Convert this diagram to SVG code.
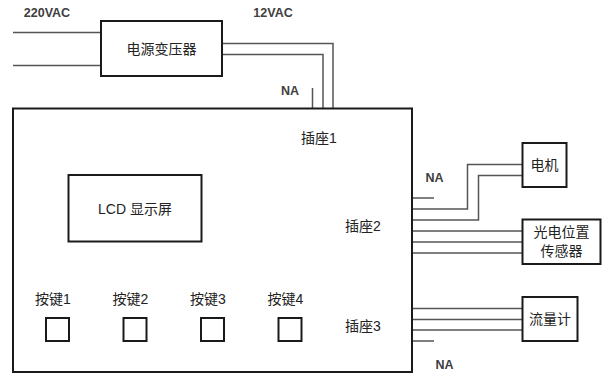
<svg xmlns="http://www.w3.org/2000/svg" width="606" height="374" viewBox="0 0 606 374">
<style>
.box{fill:#fff;stroke:#1a1a1a;stroke-width:2}
.btn{fill:#fff;stroke:#1a1a1a;stroke-width:2}
.w{fill:none;stroke:#555;stroke-width:1.5}
.t{font-family:"Liberation Sans","Noto Sans CJK SC",sans-serif;font-size:14px;fill:#222;text-anchor:middle;dominant-baseline:central}
.b{font-family:"Liberation Sans",sans-serif;font-size:12.5px;font-weight:bold;fill:#404040;text-anchor:middle;dominant-baseline:central}
</style>
<rect width="606" height="374" fill="#fff"/>
<g id="connectors">
<path class="w" d="M13 32.5H101M13 65.5H101"/>
<path class="w" d="M222 43.5H333V108M222 54.5H323V108M312.5 88V108"/>
<path class="w" d="M412 198H434M412 209H467.5V164.5H522M412 220H478.5V175.5H522"/>
<path class="w" d="M412 231H522M412 242H522M412 253H522"/>
<path class="w" d="M412 308.5H522M412 319.5H522M412 330H522M412 341H434"/>
</g>
<g id="transformer"><rect class="box" x="101" y="21" width="121" height="55"/><text class="t" x="161.5" y="49">电源变压器</text></g>
<g id="main"><rect class="box" x="13" y="108.5" width="399" height="263.5"/></g>
<g id="lcd"><rect class="box" x="68.5" y="175" width="133" height="66.5"/><text class="t" x="135" y="209">LCD 显示屏</text></g>
<g id="socket1"><text class="t" x="319" y="137.5">插座1</text></g>
<g id="socket2"><text class="t" x="363" y="226">插座2</text></g>
<g id="socket3"><text class="t" x="363" y="325.5">插座3</text></g>
<g id="key1"><text class="t" x="53" y="299">按键1</text><rect class="btn" x="46" y="318" width="23" height="23"/></g>
<g id="key2"><text class="t" x="130.5" y="299">按键2</text><rect class="btn" x="123.5" y="318" width="23" height="23"/></g>
<g id="key3"><text class="t" x="208" y="299">按键3</text><rect class="btn" x="201" y="318" width="23" height="23"/></g>
<g id="key4"><text class="t" x="285.5" y="299">按键4</text><rect class="btn" x="278.5" y="318" width="23" height="23"/></g>
<g id="motor"><rect class="box" x="522.5" y="143" width="44" height="44"/><text class="t" x="544.5" y="165">电机</text></g>
<g id="sensor"><rect class="box" x="522.5" y="219.5" width="78" height="44.5"/><text class="t" x="561.5" y="232">光电位置</text><text class="t" x="561.5" y="251">传感器</text></g>
<g id="flowmeter"><rect class="box" x="522.5" y="297" width="55" height="44"/><text class="t" x="550" y="319">流量计</text></g>
<g id="labels">
<text class="b" x="47" y="13">220VAC</text>
<text class="b" x="273" y="13">12VAC</text>
<text class="b" x="290" y="90.5">NA</text>
<text class="b" x="434.5" y="177.5">NA</text>
<text class="b" x="444.5" y="365">NA</text>
</g>
</svg>
